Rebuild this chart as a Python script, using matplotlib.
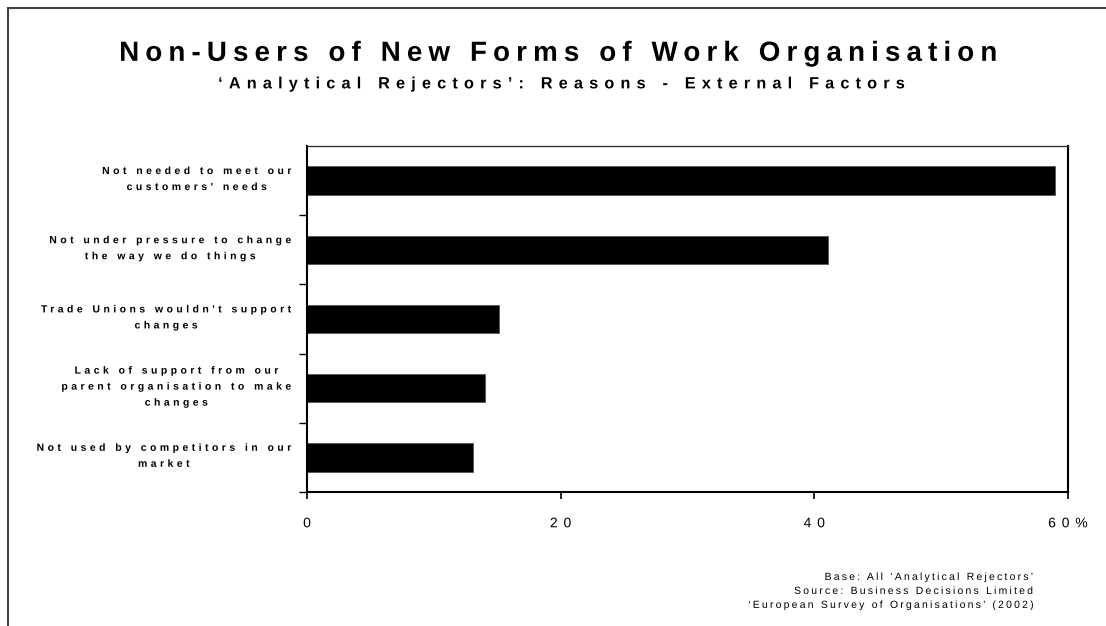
import numpy as np
import matplotlib
matplotlib.use('Agg')
import matplotlib.pyplot as plt
from matplotlib.lines import Line2D
from matplotlib.path import Path
from matplotlib.patheffects import AbstractPathEffect
from matplotlib.transforms import IdentityTransform, ScaledTranslation

plt.rcParams['font.family'] = ['Liberation Sans', 'DejaVu Sans']

# survey answers, top to bottom
reasons = [
    "Not needed to meet our\ncustomers' needs",
    "Not under pressure to change\nthe way we do things",
    "Trade Unions wouldn't support\nchanges",
    "Lack of support from our\nparent organisation to make\nchanges",
    "Not used by competitors in our\nmarket",
]
shares = [59.0, 41.1, 15.1, 14.0, 13.1]
xticks = [0, 20, 40, 60]
xtick_labels = ['0', '20', '40', '60%']

title = 'Non-Users of New Forms of Work Organisation'
subtitle = '\u2018Analytical Rejectors\u2019: Reasons - External Factors'
footer = ('Base: All \u2018Analytical Rejectors\u2019\n'
          'Source: Business Decisions Limited\n'
          '\u2018European Survey of Organisations\u2019 (2002)')


class Tracking(AbstractPathEffect):
    '''
        Spreads the glyphs of a text line apart by a fixed gap (points).
        anchor: 0 keeps the left end in place, 0.5 the middle, 1 the right end
        shift: extra sideways move of the whole line, in points
    '''
    def __init__(self, gap, fontsize, anchor=0.5, shift=0.0):
        super().__init__()
        self.gap = gap
        self.fontsize = fontsize
        self.anchor = anchor
        self.shift = shift

    def draw_path(self, renderer, gc, tpath, affine, rgbFace=None):
        px = renderer.points_to_pixels(1.0)
        verts = affine.transform(tpath.vertices)
        codes = tpath.codes
        if codes is None or len(codes) == 0:
            return
        starts = list(np.flatnonzero(codes == Path.MOVETO)) + [len(codes)]
        pieces = []
        for a, b in zip(starts[:-1], starts[1:]):
            keep = (codes[a:b] != Path.CLOSEPOLY) & (codes[a:b] != Path.STOP)
            xs = verts[a:b, 0][keep]
            if len(xs):
                pieces.append([xs.min(), xs.max(), a, b])
        pieces.sort(key=lambda p: p[0])

        # contours overlapping in x belong to one glyph
        glyphs = []
        for x0, x1, a, b in pieces:
            if glyphs and x0 < glyphs[-1][1] - 0.3:
                glyphs[-1][1] = max(glyphs[-1][1], x1)
                glyphs[-1][2].append((a, b))
            else:
                glyphs.append([x0, x1, [(a, b)]])

        gap = self.gap * px
        space = 0.2 * self.fontsize * px
        offsets = []
        total = 0.0
        for k, g in enumerate(glyphs):
            if k > 0:
                total += gap
                if g[0] - glyphs[k - 1][1] > space:
                    total += gap
            offsets.append(total)
        move = -self.anchor * total + self.shift * px

        new_verts = verts.copy()
        for off, g in zip(offsets, glyphs):
            for a, b in g[2]:
                new_verts[a:b, 0] += off + move
        renderer.draw_path(gc, Path(new_verts, codes), IdentityTransform(),
                           rgbFace)


fig = plt.figure(figsize=(11.06, 6.26), dpi=100)
ax = fig.add_axes([0.2776, 0.2141, 0.688, 0.5527])

pos = np.arange(len(reasons))
ax.barh(pos, shares, height=0.41, color='black', edgecolor='#555555', linewidth=0.6)
ax.set_xlim(0, 60)
ax.set_ylim(len(reasons) - 0.5, -0.5)

ax.set_xticks(xticks)
ax.set_xticklabels(xtick_labels, fontsize=10)
ax.tick_params(axis='x', direction='out', length=5, width=1.2, pad=12.5)
for lbl in ax.get_xticklabels():
    lbl.set_path_effects([Tracking(4.2, 10)])

ylab_size = 7.5
ylab_gap = 2.5
ax.set_yticks(pos)
ax.set_yticklabels(reasons, fontsize=ylab_size, fontweight='bold',
                   ha='right', multialignment='center', linespacing=1.75)
ax.tick_params(axis='y', which='major', length=0, pad=11.5)
ax.set_yticks(np.arange(len(reasons)) + 0.5, minor=True)
ax.tick_params(axis='y', which='minor', direction='out', length=6, width=1.0)
lift = ScaledTranslation(0, 4 / 72, fig.dpi_scale_trans)
for lbl, text in zip(ax.get_yticklabels(), reasons):
    longest = max(len(line) for line in text.split('\n'))
    lbl.set_path_effects([Tracking(ylab_gap, ylab_size,
                                   shift=-ylab_gap * (longest - 1) / 2)])
    lbl.set_transform(lbl.get_transform() + lift)

for side in ['left', 'bottom', 'right']:
    ax.spines[side].set_linewidth(1.5)
ax.spines['top'].set_linewidth(1.0)
ax.spines['top'].set_color('#333333')

t = fig.text(0.5045, 0.914, title, ha='center', va='center', fontsize=20,
             fontweight='bold')
t.set_path_effects([Tracking(4.4, 20)])
s = fig.text(0.5077, 0.866, subtitle, ha='center', va='center', fontsize=11.7,
             fontweight='bold')
s.set_path_effects([Tracking(4.45, 11.7)])
f = fig.text(0.934, 0.056, footer, ha='right', va='center', fontsize=7.5,
             multialignment='right', linespacing=1.5)
f.set_path_effects([Tracking(1.6, 7.5, anchor=1.0)])

# page frame along the left and top edges
fig.add_artist(Line2D([8 / 1106, 8 / 1106], [0, 1 - 8 / 626],
                      transform=fig.transFigure, color='#444444', lw=1.5))
fig.add_artist(Line2D([8 / 1106, 1], [1 - 8 / 626, 1 - 8 / 626],
                      transform=fig.transFigure, color='#444444', lw=1.5))

fig.savefig('out.png', dpi=100, facecolor='white')
